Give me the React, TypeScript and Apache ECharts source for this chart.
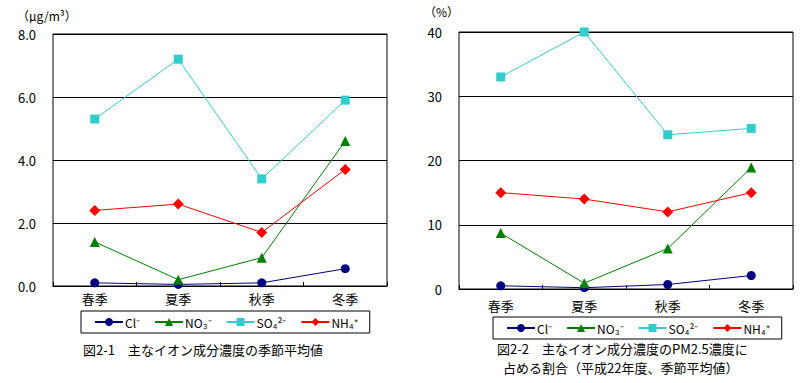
import React, { useEffect, useRef } from "react";
import * as echarts from "echarts";

const categories = ["春季", "夏季", "秋季", "冬季"];
const seriesNames = ["Cl⁻", "NO₃⁻", "SO₄²⁻", "NH₄⁺"];
const colors = ["#000080", "#008000", "#33CCCC", "#FF0000"];
const symbols = ["circle", "triangle", "rect", "diamond"];
const symbolSizes = [9, 10, 9, 11];

// 図2-1 concentration (μg/m3)
const concCl = [0.1, 0.05, 0.1, 0.55];
const concNO3 = [1.4, 0.2, 0.9, 4.6];
const concSO4 = [5.3, 7.2, 3.4, 5.9];
const concNH4 = [2.4, 2.6, 1.7, 3.7];

// 図2-2 share of PM2.5 (%)
const pctCl = [0.5, 0.2, 0.7, 2.1];
const pctNO3 = [8.7, 0.9, 6.3, 18.9];
const pctSO4 = [33, 40, 24, 25];
const pctNH4 = [15, 14, 12, 15];

const leftData = [concCl, concNO3, concSO4, concNH4];
const rightData = [pctCl, pctNO3, pctSO4, pctNH4];

const FONT = "'Noto Sans CJK JP', 'Liberation Sans', sans-serif";

export default function App() {
  const ref = useRef<HTMLDivElement>(null);
  useEffect(() => {
    if (!ref.current) return;
    const chart = echarts.init(ref.current, undefined, { renderer: "svg" });
    const mkSeries = (data: number[][], idx: number) =>
      data.map((d, i) => ({
        name: seriesNames[i],
        type: "line",
        xAxisIndex: idx,
        yAxisIndex: idx,
        data: d,
        symbol: symbols[i],
        symbolSize: symbolSizes[i],
        itemStyle: { color: colors[i] },
        lineStyle: { color: colors[i], width: 1 },
        z: 3,
      }));
    const xAxisBase = (gridIndex: number, margin: number) => ({
      type: "category",
      gridIndex,
      data: categories,
      boundaryGap: true,
      axisLine: { show: true, lineStyle: { color: "#000", width: 1 } },
      axisTick: { show: true, inside: true, length: 4, lineStyle: { color: "#000" } },
      axisLabel: { color: "#000", fontSize: 13, margin, fontFamily: FONT },
    });
    const legendBase = {
      data: seriesNames,
      orient: "horizontal",
      itemWidth: 28,
      itemHeight: 10,
      itemGap: 14,
      borderColor: "#000",
      borderWidth: 1,
      padding: [5, 12, 5, 13],
      textStyle: { color: "#000", fontSize: 12, fontFamily: FONT, padding: [0, 0, 0, -3] },
      selectedMode: false,
    };
    chart.setOption({
      animation: false,
      backgroundColor: "#fff",
      grid: [
        { left: 53, top: 34, width: 334, height: 252, show: true, borderColor: "#000", borderWidth: 1, backgroundColor: "transparent" },
        { left: 459, top: 32, width: 334, height: 257, show: true, borderColor: "#000", borderWidth: 1, backgroundColor: "transparent" },
      ],
      xAxis: [xAxisBase(0, 6), xAxisBase(1, 10)],
      yAxis: [
        {
          type: "value",
          gridIndex: 0,
          min: 0,
          max: 8,
          interval: 2,
          axisLine: { show: false },
          axisTick: { show: false },
          splitLine: { show: true, lineStyle: { color: "#000", width: 1 } },
          axisLabel: { color: "#000", fontSize: 13, margin: 17, fontFamily: FONT, formatter: (v: number) => v.toFixed(1) },
        },
        {
          type: "value",
          gridIndex: 1,
          min: 0,
          max: 40,
          interval: 10,
          axisLine: { show: false },
          axisTick: { show: false },
          splitLine: { show: true, lineStyle: { color: "#000", width: 1 } },
          axisLabel: { color: "#000", fontSize: 13, margin: 17, fontFamily: FONT },
        },
      ],
      legend: [
        { ...legendBase, left: 81, top: 311 },
        { ...legendBase, left: 493, top: 317 },
      ],
      series: [...mkSeries(leftData, 0), ...mkSeries(rightData, 1)],
      graphic: [
        { type: "text", left: 17, top: 9, style: { text: "（μg/m³）", fill: "#000", font: `12px ${FONT}` } },
        { type: "text", left: 424, top: 5, style: { text: "（%）", fill: "#000", font: `12px ${FONT}` } },
        { type: "text", left: 83, top: 343, style: { text: "図2-1　主なイオン成分濃度の季節平均値", fill: "#000", font: `13px ${FONT}` } },
        { type: "text", left: 497, top: 342, style: { text: "図2-2　主なイオン成分濃度のPM2.5濃度に", fill: "#000", font: `13px ${FONT}` } },
        { type: "text", left: 503, top: 361, style: { text: "占める割合（平成22年度、季節平均値）", fill: "#000", font: `13px ${FONT}` } },
      ],
    });
    return () => chart.dispose();
  }, []);
  return (
    <div
      ref={ref}
      style={{ position: "absolute", left: 0, top: 0, width: 810, height: 383 }}
    />
  );
}
